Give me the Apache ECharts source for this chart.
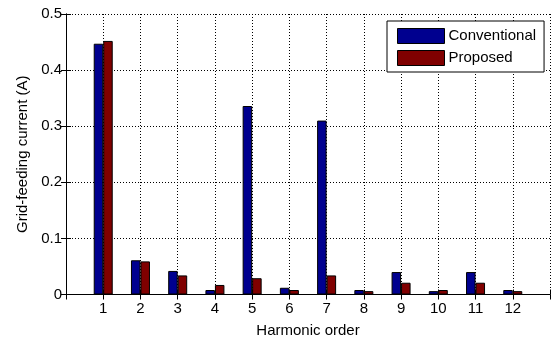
<!DOCTYPE html>
<html>
<head>
<meta charset="utf-8">
<script src="https://cdn.jsdelivr.net/npm/echarts@6/dist/echarts.min.js"></script>
<style>
  html, body { margin: 0; padding: 0; background: #fff; }
  #chart { width: 552px; height: 339px; }
</style>
</head>
<body>
<div id="chart"></div>
<script>
// 谐波次数和两种方法的并网电流
const orders = [1, 2, 3, 4, 5, 6, 7, 8, 9, 10, 11, 12];
const conventional = [0.447, 0.061, 0.042, 0.008, 0.336, 0.012, 0.310, 0.008, 0.040, 0.006, 0.040, 0.008];
const proposed = [0.452, 0.059, 0.034, 0.017, 0.029, 0.008, 0.034, 0.006, 0.021, 0.008, 0.021, 0.006];
const yTicks = [0, 0.1, 0.2, 0.3, 0.4, 0.5];

const font = "'Liberation Sans', Arial, sans-serif";

const pair = (vals) => orders.map((o, i) => [o, vals[i]]);

// 上方和右侧的边框轴
const boxAxis = {
  axisLine: { show: true, lineStyle: { color: '#000', width: 1 } },
  axisTick: { show: true, inside: true, length: 5, lineStyle: { color: '#000' } },
  axisLabel: { show: false },
  splitLine: { show: false }
};

const myChart = echarts.init(document.getElementById('chart'));
myChart.setOption({
  animation: false,
  grid: { left: 66, right: 2, top: 14, bottom: 44.5, outerBoundsMode: 'none', containLabel: false },
  legend: {
    orient: 'vertical',
    left: 387,
    top: 21,
    width: 157,
    icon: 'rect',
    itemWidth: 47,
    itemHeight: 15,
    itemGap: 6,
    padding: [7, 8, 6, 10],
    backgroundColor: '#fff',
    borderColor: '#000',
    borderWidth: 1,
    borderRadius: 0,
    itemStyle: { borderColor: '#000', borderWidth: 1 },
    textStyle: { fontFamily: font, fontSize: 15, color: '#000', padding: [0, 0, 0, -1] },
    data: ['Conventional', 'Proposed']
  },
  xAxis: [
    {
      type: 'value',
      min: 0,
      max: 13,
      interval: 1,
      name: 'Harmonic order',
      nameLocation: 'middle',
      nameGap: 29,
      nameTextStyle: { fontFamily: font, fontSize: 15, color: '#000' },
      axisLine: { show: true, lineStyle: { color: '#000', width: 1 } },
      axisTick: { show: true, inside: true, length: 5, lineStyle: { color: '#000' } },
      axisLabel: {
        fontFamily: font, fontSize: 15, color: '#000', margin: 7,
        formatter: v => (v >= 1 && v <= 12 ? String(v) : '')
      },
      splitLine: { show: true, lineStyle: { color: '#000', type: [1, 2], width: 1 } }
    },
    Object.assign({ type: 'value', position: 'top', min: 0, max: 13, interval: 1 }, boxAxis)
  ],
  yAxis: [
    {
      type: 'value',
      min: yTicks[0],
      max: yTicks[yTicks.length - 1],
      interval: 0.1,
      name: 'Grid-feeding current (A)',
      nameLocation: 'middle',
      nameGap: 30,
      nameTextStyle: { fontFamily: font, fontSize: 15, color: '#000' },
      axisLine: { show: true, lineStyle: { color: '#000', width: 1 } },
      axisTick: { show: true, inside: true, length: 5, lineStyle: { color: '#000' } },
      axisLabel: { fontFamily: font, fontSize: 15, color: '#000', margin: 4 },
      splitLine: { show: true, lineStyle: { color: '#000', type: [1, 2], width: 1 } }
    },
    Object.assign({ type: 'value', position: 'right', min: 0, max: 0.5, interval: 0.1 }, boxAxis)
  ],
  series: [
    {
      name: 'Conventional',
      type: 'bar',
      barWidth: 9.5,
      barGap: '0%',
      itemStyle: { color: '#00008f', borderColor: '#000', borderWidth: 1 },
      data: pair(conventional)
    },
    {
      name: 'Proposed',
      type: 'bar',
      barWidth: 9.5,
      barGap: '0%',
      itemStyle: { color: '#800000', borderColor: '#000', borderWidth: 1 },
      data: pair(proposed)
    }
  ]
});
</script>
</body>
</html>
